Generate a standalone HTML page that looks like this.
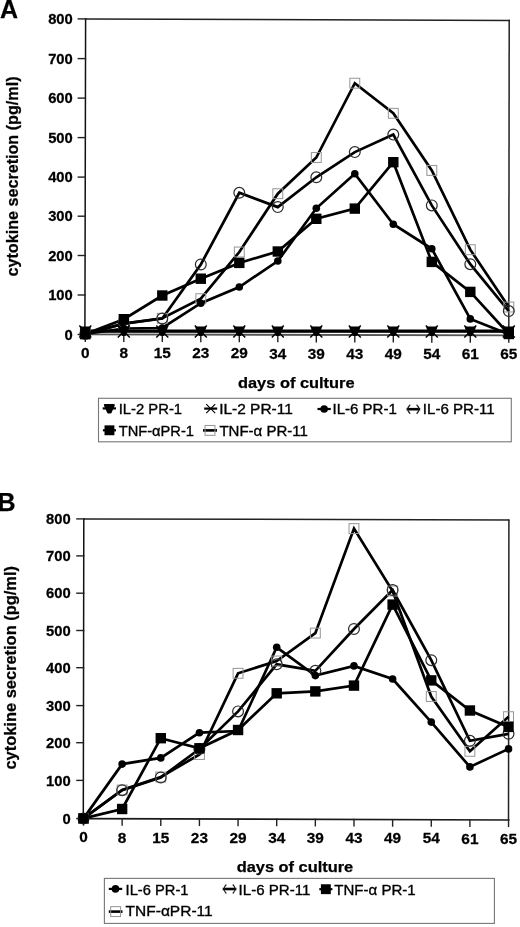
<!DOCTYPE html><html><head><meta charset="utf-8"><style>html,body{margin:0;padding:0;background:#fff;}svg{display:block;font-family:"Liberation Sans", sans-serif;filter:grayscale(1);} text{stroke:#000;stroke-width:0.25px;} text.lg{stroke-width:0.35px;}</style></head><body>
<svg width="520" height="927" viewBox="0 0 520 927">
<rect width="520" height="927" fill="#fff"/>
<text x="0.00" y="18.30" font-size="25" font-weight="bold" text-anchor="start">A</text>
<text x="-2.40" y="511.00" font-size="25" font-weight="bold" text-anchor="start">B</text>
<text transform="translate(17.8,176.5) rotate(-90)" font-size="16" font-weight="bold" text-anchor="middle" textLength="200" lengthAdjust="spacingAndGlyphs">cytokine secretion (pg/ml)</text>
<text transform="translate(15.6,667.8) rotate(-90)" font-size="16" font-weight="bold" text-anchor="middle" textLength="203.5" lengthAdjust="spacingAndGlyphs">cytokine secretion (pg/ml)</text>
<text x="238.00" y="387.50" font-size="14.7" font-weight="bold" text-anchor="start" textLength="116.50" lengthAdjust="spacingAndGlyphs">days of culture</text>
<text x="236.70" y="872.00" font-size="14.7" font-weight="bold" text-anchor="start" textLength="116.50" lengthAdjust="spacingAndGlyphs">days of culture</text>
<line x1="85.60" y1="19.00" x2="509.20" y2="20.40" stroke="#222" stroke-width="1.5" stroke-linecap="square"/>
<line x1="509.20" y1="20.40" x2="508.80" y2="335.80" stroke="#222" stroke-width="1.5" stroke-linecap="square"/>
<line x1="85.60" y1="18.90" x2="84.90" y2="335.00" stroke="#111" stroke-width="1.5" stroke-linecap="square"/>
<line x1="84.90" y1="334.40" x2="508.80" y2="335.30" stroke="#555" stroke-width="1.8" stroke-linecap="square"/>
<line x1="78.30" y1="18.90" x2="85.60" y2="18.90" stroke="#222" stroke-width="1.4" stroke-linecap="square"/>
<text transform="translate(72.80,24.10) scale(1.02,1)" font-size="14.5" font-weight="bold" text-anchor="end" class="tl">800</text>
<line x1="78.30" y1="58.60" x2="85.51" y2="58.60" stroke="#222" stroke-width="1.4" stroke-linecap="square"/>
<text transform="translate(72.80,63.80) scale(1.02,1)" font-size="14.5" font-weight="bold" text-anchor="end" class="tl">700</text>
<line x1="78.30" y1="98.10" x2="85.42" y2="98.10" stroke="#222" stroke-width="1.4" stroke-linecap="square"/>
<text transform="translate(72.80,103.30) scale(1.02,1)" font-size="14.5" font-weight="bold" text-anchor="end" class="tl">600</text>
<line x1="78.30" y1="137.60" x2="85.34" y2="137.60" stroke="#222" stroke-width="1.4" stroke-linecap="square"/>
<text transform="translate(72.80,142.80) scale(1.02,1)" font-size="14.5" font-weight="bold" text-anchor="end" class="tl">500</text>
<line x1="78.30" y1="177.10" x2="85.25" y2="177.10" stroke="#222" stroke-width="1.4" stroke-linecap="square"/>
<text transform="translate(72.80,182.30) scale(1.02,1)" font-size="14.5" font-weight="bold" text-anchor="end" class="tl">400</text>
<line x1="78.30" y1="216.20" x2="85.16" y2="216.20" stroke="#222" stroke-width="1.4" stroke-linecap="square"/>
<text transform="translate(72.80,221.40) scale(1.02,1)" font-size="14.5" font-weight="bold" text-anchor="end" class="tl">300</text>
<line x1="78.30" y1="255.50" x2="85.08" y2="255.50" stroke="#222" stroke-width="1.4" stroke-linecap="square"/>
<text transform="translate(72.80,260.70) scale(1.02,1)" font-size="14.5" font-weight="bold" text-anchor="end" class="tl">200</text>
<line x1="78.30" y1="295.00" x2="84.99" y2="295.00" stroke="#222" stroke-width="1.4" stroke-linecap="square"/>
<text transform="translate(72.80,300.20) scale(1.02,1)" font-size="14.5" font-weight="bold" text-anchor="end" class="tl">100</text>
<line x1="78.30" y1="334.50" x2="84.90" y2="334.50" stroke="#222" stroke-width="1.4" stroke-linecap="square"/>
<text transform="translate(72.80,339.70) scale(1.02,1)" font-size="14.5" font-weight="bold" text-anchor="end" class="tl">0</text>
<line x1="85.30" y1="334.40" x2="85.30" y2="341.20" stroke="#222" stroke-width="1.4" stroke-linecap="square"/>
<text transform="translate(85.30,357.94) scale(1.06,1)" font-size="14.5" font-weight="bold" text-anchor="middle" class="tl">0</text>
<line x1="123.80" y1="334.48" x2="123.80" y2="341.28" stroke="#222" stroke-width="1.4" stroke-linecap="square"/>
<text transform="translate(123.80,358.05) scale(1.06,1)" font-size="14.5" font-weight="bold" text-anchor="middle" class="tl">8</text>
<line x1="162.30" y1="334.56" x2="162.30" y2="341.36" stroke="#222" stroke-width="1.4" stroke-linecap="square"/>
<text transform="translate(162.30,358.17) scale(1.06,1)" font-size="14.5" font-weight="bold" text-anchor="middle" class="tl">15</text>
<line x1="200.80" y1="334.65" x2="200.80" y2="341.45" stroke="#222" stroke-width="1.4" stroke-linecap="square"/>
<text transform="translate(200.80,358.28) scale(1.06,1)" font-size="14.5" font-weight="bold" text-anchor="middle" class="tl">23</text>
<line x1="239.30" y1="334.73" x2="239.30" y2="341.53" stroke="#222" stroke-width="1.4" stroke-linecap="square"/>
<text transform="translate(239.30,358.40) scale(1.06,1)" font-size="14.5" font-weight="bold" text-anchor="middle" class="tl">29</text>
<line x1="277.80" y1="334.81" x2="277.80" y2="341.61" stroke="#222" stroke-width="1.4" stroke-linecap="square"/>
<text transform="translate(277.80,358.51) scale(1.06,1)" font-size="14.5" font-weight="bold" text-anchor="middle" class="tl">34</text>
<line x1="316.30" y1="334.89" x2="316.30" y2="341.69" stroke="#222" stroke-width="1.4" stroke-linecap="square"/>
<text transform="translate(316.30,358.63) scale(1.06,1)" font-size="14.5" font-weight="bold" text-anchor="middle" class="tl">39</text>
<line x1="354.80" y1="334.97" x2="354.80" y2="341.77" stroke="#222" stroke-width="1.4" stroke-linecap="square"/>
<text transform="translate(354.80,358.74) scale(1.06,1)" font-size="14.5" font-weight="bold" text-anchor="middle" class="tl">43</text>
<line x1="393.30" y1="335.05" x2="393.30" y2="341.85" stroke="#222" stroke-width="1.4" stroke-linecap="square"/>
<text transform="translate(393.30,358.86) scale(1.06,1)" font-size="14.5" font-weight="bold" text-anchor="middle" class="tl">49</text>
<line x1="431.80" y1="335.14" x2="431.80" y2="341.94" stroke="#222" stroke-width="1.4" stroke-linecap="square"/>
<text transform="translate(431.80,358.98) scale(1.06,1)" font-size="14.5" font-weight="bold" text-anchor="middle" class="tl">54</text>
<line x1="470.30" y1="335.22" x2="470.30" y2="342.02" stroke="#222" stroke-width="1.4" stroke-linecap="square"/>
<text transform="translate(470.30,359.09) scale(1.06,1)" font-size="14.5" font-weight="bold" text-anchor="middle" class="tl">61</text>
<line x1="508.80" y1="335.30" x2="508.80" y2="342.10" stroke="#222" stroke-width="1.4" stroke-linecap="square"/>
<text transform="translate(508.80,359.21) scale(1.06,1)" font-size="14.5" font-weight="bold" text-anchor="middle" class="tl">65</text>
<polyline points="85.30,330.90 123.80,330.90 162.30,330.90 200.80,330.90 239.30,330.90 277.80,330.90 316.30,330.90 354.80,330.90 393.30,330.90 431.80,330.90 470.30,330.90 508.80,330.90" fill="none" stroke="#000" stroke-width="2.7" stroke-linejoin="miter" stroke-miterlimit="3"/>
<polyline points="85.30,331.50 123.80,331.50 162.30,331.50 200.80,331.50 239.30,331.50 277.80,331.50 316.30,331.50 354.80,331.50 393.30,331.50 431.80,331.50 470.30,331.50 508.80,331.50" fill="none" stroke="#000" stroke-width="2.7" stroke-linejoin="miter" stroke-miterlimit="3"/>
<polyline points="85.30,334.00 123.80,328.50 162.30,328.00 200.80,303.20 239.30,287.00 277.80,261.00 316.30,208.30 354.80,173.80 393.30,224.20 431.80,248.80 470.30,318.90 508.80,334.20" fill="none" stroke="#000" stroke-width="2.7" stroke-linejoin="miter" stroke-miterlimit="3"/>
<polyline points="85.30,334.00 123.80,323.70 162.30,318.50 200.80,264.50 239.30,192.80 277.80,207.10 316.30,177.30 354.80,152.10 393.30,134.60 431.80,205.40 470.30,264.20 508.80,311.10" fill="none" stroke="#000" stroke-width="2.7" stroke-linejoin="miter" stroke-miterlimit="3"/>
<polyline points="85.30,334.00 123.80,319.20 162.30,295.50 200.80,278.70 239.30,262.90 277.80,251.50 316.30,218.80 354.80,208.60 393.30,162.20 431.80,261.90 470.30,291.90 508.80,334.00" fill="none" stroke="#000" stroke-width="2.7" stroke-linejoin="miter" stroke-miterlimit="3"/>
<polyline points="85.30,334.00 123.80,323.70 162.30,318.30 200.80,298.70 239.30,252.00 277.80,193.70 316.30,157.50 354.80,83.20 393.30,113.30 431.80,170.40 470.30,249.70 508.80,307.00" fill="none" stroke="#000" stroke-width="2.7" stroke-linejoin="miter" stroke-miterlimit="3"/>
<rect x="80.35" y="329.05" width="9.90" height="9.90" fill="none" stroke="#959595" stroke-width="1.0"/>
<rect x="118.85" y="318.75" width="9.90" height="9.90" fill="none" stroke="#959595" stroke-width="1.0"/>
<rect x="157.35" y="313.35" width="9.90" height="9.90" fill="none" stroke="#959595" stroke-width="1.0"/>
<rect x="195.85" y="293.75" width="9.90" height="9.90" fill="none" stroke="#959595" stroke-width="1.0"/>
<rect x="234.35" y="247.05" width="9.90" height="9.90" fill="none" stroke="#959595" stroke-width="1.0"/>
<rect x="272.85" y="188.75" width="9.90" height="9.90" fill="none" stroke="#959595" stroke-width="1.0"/>
<rect x="311.35" y="152.55" width="9.90" height="9.90" fill="none" stroke="#959595" stroke-width="1.0"/>
<rect x="349.85" y="78.25" width="9.90" height="9.90" fill="none" stroke="#959595" stroke-width="1.0"/>
<rect x="388.35" y="108.35" width="9.90" height="9.90" fill="none" stroke="#959595" stroke-width="1.0"/>
<rect x="426.85" y="165.45" width="9.90" height="9.90" fill="none" stroke="#959595" stroke-width="1.0"/>
<rect x="465.35" y="244.75" width="9.90" height="9.90" fill="none" stroke="#959595" stroke-width="1.0"/>
<rect x="503.85" y="302.05" width="9.90" height="9.90" fill="none" stroke="#959595" stroke-width="1.0"/>
<circle cx="85.30" cy="334.00" r="5.40" fill="none" stroke="#2a2a2a" stroke-width="1.2"/>
<circle cx="123.80" cy="323.70" r="5.40" fill="none" stroke="#2a2a2a" stroke-width="1.2"/>
<circle cx="162.30" cy="318.50" r="5.40" fill="none" stroke="#2a2a2a" stroke-width="1.2"/>
<circle cx="200.80" cy="264.50" r="5.40" fill="none" stroke="#2a2a2a" stroke-width="1.2"/>
<circle cx="239.30" cy="192.80" r="5.40" fill="none" stroke="#2a2a2a" stroke-width="1.2"/>
<circle cx="277.80" cy="207.10" r="5.40" fill="none" stroke="#2a2a2a" stroke-width="1.2"/>
<circle cx="316.30" cy="177.30" r="5.40" fill="none" stroke="#2a2a2a" stroke-width="1.2"/>
<circle cx="354.80" cy="152.10" r="5.40" fill="none" stroke="#2a2a2a" stroke-width="1.2"/>
<circle cx="393.30" cy="134.60" r="5.40" fill="none" stroke="#2a2a2a" stroke-width="1.2"/>
<circle cx="431.80" cy="205.40" r="5.40" fill="none" stroke="#2a2a2a" stroke-width="1.2"/>
<circle cx="470.30" cy="264.20" r="5.40" fill="none" stroke="#2a2a2a" stroke-width="1.2"/>
<circle cx="508.80" cy="311.10" r="5.40" fill="none" stroke="#2a2a2a" stroke-width="1.2"/>
<path d="M80.90,327.60 L89.70,327.60 L86.50,334.80 L84.10,334.80 Z" fill="#000" stroke="#000" stroke-width="2.20" stroke-linejoin="round"/>
<path d="M119.40,327.60 L128.20,327.60 L125.00,334.80 L122.60,334.80 Z" fill="#000" stroke="#000" stroke-width="2.20" stroke-linejoin="round"/>
<path d="M157.90,327.60 L166.70,327.60 L163.50,334.80 L161.10,334.80 Z" fill="#000" stroke="#000" stroke-width="2.20" stroke-linejoin="round"/>
<path d="M196.40,327.60 L205.20,327.60 L202.00,334.80 L199.60,334.80 Z" fill="#000" stroke="#000" stroke-width="2.20" stroke-linejoin="round"/>
<path d="M234.90,327.60 L243.70,327.60 L240.50,334.80 L238.10,334.80 Z" fill="#000" stroke="#000" stroke-width="2.20" stroke-linejoin="round"/>
<path d="M273.40,327.60 L282.20,327.60 L279.00,334.80 L276.60,334.80 Z" fill="#000" stroke="#000" stroke-width="2.20" stroke-linejoin="round"/>
<path d="M311.90,327.60 L320.70,327.60 L317.50,334.80 L315.10,334.80 Z" fill="#000" stroke="#000" stroke-width="2.20" stroke-linejoin="round"/>
<path d="M350.40,327.60 L359.20,327.60 L356.00,334.80 L353.60,334.80 Z" fill="#000" stroke="#000" stroke-width="2.20" stroke-linejoin="round"/>
<path d="M388.90,327.60 L397.70,327.60 L394.50,334.80 L392.10,334.80 Z" fill="#000" stroke="#000" stroke-width="2.20" stroke-linejoin="round"/>
<path d="M427.40,327.60 L436.20,327.60 L433.00,334.80 L430.60,334.80 Z" fill="#000" stroke="#000" stroke-width="2.20" stroke-linejoin="round"/>
<path d="M465.90,327.60 L474.70,327.60 L471.50,334.80 L469.10,334.80 Z" fill="#000" stroke="#000" stroke-width="2.20" stroke-linejoin="round"/>
<path d="M504.40,327.60 L513.20,327.60 L510.00,334.80 L507.60,334.80 Z" fill="#000" stroke="#000" stroke-width="2.20" stroke-linejoin="round"/>
<path d="M79.30,325.50 L91.30,337.50 M91.30,325.50 L79.30,337.50" stroke="#000" stroke-width="1.50" fill="none"/>
<path d="M117.80,325.50 L129.80,337.50 M129.80,325.50 L117.80,337.50" stroke="#000" stroke-width="1.50" fill="none"/>
<path d="M156.30,325.50 L168.30,337.50 M168.30,325.50 L156.30,337.50" stroke="#000" stroke-width="1.50" fill="none"/>
<path d="M194.80,325.50 L206.80,337.50 M206.80,325.50 L194.80,337.50" stroke="#000" stroke-width="1.50" fill="none"/>
<path d="M233.30,325.50 L245.30,337.50 M245.30,325.50 L233.30,337.50" stroke="#000" stroke-width="1.50" fill="none"/>
<path d="M271.80,325.50 L283.80,337.50 M283.80,325.50 L271.80,337.50" stroke="#000" stroke-width="1.50" fill="none"/>
<path d="M310.30,325.50 L322.30,337.50 M322.30,325.50 L310.30,337.50" stroke="#000" stroke-width="1.50" fill="none"/>
<path d="M348.80,325.50 L360.80,337.50 M360.80,325.50 L348.80,337.50" stroke="#000" stroke-width="1.50" fill="none"/>
<path d="M387.30,325.50 L399.30,337.50 M399.30,325.50 L387.30,337.50" stroke="#000" stroke-width="1.50" fill="none"/>
<path d="M425.80,325.50 L437.80,337.50 M437.80,325.50 L425.80,337.50" stroke="#000" stroke-width="1.50" fill="none"/>
<path d="M464.30,325.50 L476.30,337.50 M476.30,325.50 L464.30,337.50" stroke="#000" stroke-width="1.50" fill="none"/>
<path d="M502.80,325.50 L514.80,337.50 M514.80,325.50 L502.80,337.50" stroke="#000" stroke-width="1.50" fill="none"/>
<circle cx="85.30" cy="334.00" r="3.80" fill="#000"/>
<circle cx="123.80" cy="328.50" r="3.80" fill="#000"/>
<circle cx="162.30" cy="328.00" r="3.80" fill="#000"/>
<circle cx="200.80" cy="303.20" r="3.80" fill="#000"/>
<circle cx="239.30" cy="287.00" r="3.80" fill="#000"/>
<circle cx="277.80" cy="261.00" r="3.80" fill="#000"/>
<circle cx="316.30" cy="208.30" r="3.80" fill="#000"/>
<circle cx="354.80" cy="173.80" r="3.80" fill="#000"/>
<circle cx="393.30" cy="224.20" r="3.80" fill="#000"/>
<circle cx="431.80" cy="248.80" r="3.80" fill="#000"/>
<circle cx="470.30" cy="318.90" r="3.80" fill="#000"/>
<circle cx="508.80" cy="334.20" r="3.80" fill="#000"/>
<rect x="80.10" y="328.80" width="10.40" height="10.40" fill="#000"/>
<rect x="118.60" y="314.00" width="10.40" height="10.40" fill="#000"/>
<rect x="157.10" y="290.30" width="10.40" height="10.40" fill="#000"/>
<rect x="195.60" y="273.50" width="10.40" height="10.40" fill="#000"/>
<rect x="234.10" y="257.70" width="10.40" height="10.40" fill="#000"/>
<rect x="272.60" y="246.30" width="10.40" height="10.40" fill="#000"/>
<rect x="311.10" y="213.60" width="10.40" height="10.40" fill="#000"/>
<rect x="349.60" y="203.40" width="10.40" height="10.40" fill="#000"/>
<rect x="388.10" y="157.00" width="10.40" height="10.40" fill="#000"/>
<rect x="426.60" y="256.70" width="10.40" height="10.40" fill="#000"/>
<rect x="465.10" y="286.70" width="10.40" height="10.40" fill="#000"/>
<rect x="503.60" y="328.80" width="10.40" height="10.40" fill="#000"/>
<line x1="83.80" y1="519.00" x2="508.90" y2="519.90" stroke="#222" stroke-width="1.5" stroke-linecap="square"/>
<line x1="508.90" y1="519.90" x2="508.50" y2="820.00" stroke="#222" stroke-width="1.5" stroke-linecap="square"/>
<line x1="83.80" y1="519.00" x2="83.30" y2="819.00" stroke="#111" stroke-width="1.5" stroke-linecap="square"/>
<line x1="83.30" y1="818.60" x2="508.50" y2="820.00" stroke="#1a1a1a" stroke-width="1.7" stroke-linecap="square"/>
<line x1="76.90" y1="518.90" x2="83.80" y2="518.90" stroke="#222" stroke-width="1.4" stroke-linecap="square"/>
<text transform="translate(70.60,524.10) scale(1.02,1)" font-size="14.5" font-weight="bold" text-anchor="end" class="tl">800</text>
<line x1="76.90" y1="555.90" x2="83.74" y2="555.90" stroke="#222" stroke-width="1.4" stroke-linecap="square"/>
<text transform="translate(70.60,561.10) scale(1.02,1)" font-size="14.5" font-weight="bold" text-anchor="end" class="tl">700</text>
<line x1="76.90" y1="593.20" x2="83.68" y2="593.20" stroke="#222" stroke-width="1.4" stroke-linecap="square"/>
<text transform="translate(70.60,598.40) scale(1.02,1)" font-size="14.5" font-weight="bold" text-anchor="end" class="tl">600</text>
<line x1="76.90" y1="630.50" x2="83.61" y2="630.50" stroke="#222" stroke-width="1.4" stroke-linecap="square"/>
<text transform="translate(70.60,635.70) scale(1.02,1)" font-size="14.5" font-weight="bold" text-anchor="end" class="tl">500</text>
<line x1="76.90" y1="667.70" x2="83.55" y2="667.70" stroke="#222" stroke-width="1.4" stroke-linecap="square"/>
<text transform="translate(70.60,672.90) scale(1.02,1)" font-size="14.5" font-weight="bold" text-anchor="end" class="tl">400</text>
<line x1="76.90" y1="705.60" x2="83.49" y2="705.60" stroke="#222" stroke-width="1.4" stroke-linecap="square"/>
<text transform="translate(70.60,710.80) scale(1.02,1)" font-size="14.5" font-weight="bold" text-anchor="end" class="tl">300</text>
<line x1="76.90" y1="742.70" x2="83.43" y2="742.70" stroke="#222" stroke-width="1.4" stroke-linecap="square"/>
<text transform="translate(70.60,747.90) scale(1.02,1)" font-size="14.5" font-weight="bold" text-anchor="end" class="tl">200</text>
<line x1="76.90" y1="780.40" x2="83.36" y2="780.40" stroke="#222" stroke-width="1.4" stroke-linecap="square"/>
<text transform="translate(70.60,785.60) scale(1.02,1)" font-size="14.5" font-weight="bold" text-anchor="end" class="tl">100</text>
<line x1="76.90" y1="818.60" x2="83.30" y2="818.60" stroke="#222" stroke-width="1.4" stroke-linecap="square"/>
<text transform="translate(70.60,823.80) scale(1.02,1)" font-size="14.5" font-weight="bold" text-anchor="end" class="tl">0</text>
<line x1="83.50" y1="818.60" x2="83.50" y2="825.00" stroke="#222" stroke-width="1.4" stroke-linecap="square"/>
<text transform="translate(83.50,842.43) scale(1.06,1)" font-size="14.5" font-weight="bold" text-anchor="middle" class="tl">0</text>
<line x1="122.14" y1="818.73" x2="122.14" y2="825.13" stroke="#222" stroke-width="1.4" stroke-linecap="square"/>
<text transform="translate(122.14,842.55) scale(1.06,1)" font-size="14.5" font-weight="bold" text-anchor="middle" class="tl">8</text>
<line x1="160.78" y1="818.86" x2="160.78" y2="825.26" stroke="#222" stroke-width="1.4" stroke-linecap="square"/>
<text transform="translate(160.78,842.66) scale(1.06,1)" font-size="14.5" font-weight="bold" text-anchor="middle" class="tl">15</text>
<line x1="199.42" y1="818.98" x2="199.42" y2="825.38" stroke="#222" stroke-width="1.4" stroke-linecap="square"/>
<text transform="translate(199.42,842.78) scale(1.06,1)" font-size="14.5" font-weight="bold" text-anchor="middle" class="tl">23</text>
<line x1="238.06" y1="819.11" x2="238.06" y2="825.51" stroke="#222" stroke-width="1.4" stroke-linecap="square"/>
<text transform="translate(238.06,842.89) scale(1.06,1)" font-size="14.5" font-weight="bold" text-anchor="middle" class="tl">29</text>
<line x1="276.70" y1="819.24" x2="276.70" y2="825.64" stroke="#222" stroke-width="1.4" stroke-linecap="square"/>
<text transform="translate(276.70,843.01) scale(1.06,1)" font-size="14.5" font-weight="bold" text-anchor="middle" class="tl">34</text>
<line x1="315.34" y1="819.36" x2="315.34" y2="825.76" stroke="#222" stroke-width="1.4" stroke-linecap="square"/>
<text transform="translate(315.34,843.13) scale(1.06,1)" font-size="14.5" font-weight="bold" text-anchor="middle" class="tl">39</text>
<line x1="353.98" y1="819.49" x2="353.98" y2="825.89" stroke="#222" stroke-width="1.4" stroke-linecap="square"/>
<text transform="translate(353.98,843.24) scale(1.06,1)" font-size="14.5" font-weight="bold" text-anchor="middle" class="tl">43</text>
<line x1="392.62" y1="819.62" x2="392.62" y2="826.02" stroke="#222" stroke-width="1.4" stroke-linecap="square"/>
<text transform="translate(392.62,843.36) scale(1.06,1)" font-size="14.5" font-weight="bold" text-anchor="middle" class="tl">49</text>
<line x1="431.26" y1="819.75" x2="431.26" y2="826.15" stroke="#222" stroke-width="1.4" stroke-linecap="square"/>
<text transform="translate(431.26,843.47) scale(1.06,1)" font-size="14.5" font-weight="bold" text-anchor="middle" class="tl">54</text>
<line x1="469.90" y1="819.87" x2="469.90" y2="826.27" stroke="#222" stroke-width="1.4" stroke-linecap="square"/>
<text transform="translate(469.90,843.59) scale(1.06,1)" font-size="14.5" font-weight="bold" text-anchor="middle" class="tl">61</text>
<line x1="508.54" y1="820.00" x2="508.54" y2="826.40" stroke="#222" stroke-width="1.4" stroke-linecap="square"/>
<text transform="translate(508.54,843.71) scale(1.06,1)" font-size="14.5" font-weight="bold" text-anchor="middle" class="tl">65</text>
<polyline points="83.50,818.40 122.14,764.10 160.78,757.90 199.42,732.70 238.06,731.00 276.70,647.30 315.34,675.60 353.98,665.90 392.62,679.00 431.26,722.10 469.90,766.90 508.54,748.90" fill="none" stroke="#000" stroke-width="2.7" stroke-linejoin="miter" stroke-miterlimit="3"/>
<polyline points="83.50,818.40 122.14,790.20 160.78,777.50 199.42,749.00 238.06,711.40 276.70,664.30 315.34,670.80 353.98,629.00 392.62,590.00 431.26,660.20 469.90,740.80 508.54,733.80" fill="none" stroke="#000" stroke-width="2.7" stroke-linejoin="miter" stroke-miterlimit="3"/>
<polyline points="83.50,818.40 122.14,809.00 160.78,738.20 199.42,748.30 238.06,730.00 276.70,693.30 315.34,691.40 353.98,685.60 392.62,604.60 431.26,680.40 469.90,710.50 508.54,726.90" fill="none" stroke="#000" stroke-width="2.7" stroke-linejoin="miter" stroke-miterlimit="3"/>
<polyline points="83.50,818.40 122.14,790.00 160.78,777.00 199.42,754.50 238.06,673.30 276.70,661.00 315.34,633.10 353.98,528.60 392.62,591.00 431.26,696.50 469.90,751.30 508.54,716.70" fill="none" stroke="#000" stroke-width="2.7" stroke-linejoin="miter" stroke-miterlimit="3"/>
<rect x="78.55" y="813.45" width="9.90" height="9.90" fill="none" stroke="#959595" stroke-width="1.0"/>
<rect x="117.19" y="785.05" width="9.90" height="9.90" fill="none" stroke="#959595" stroke-width="1.0"/>
<rect x="155.83" y="772.05" width="9.90" height="9.90" fill="none" stroke="#959595" stroke-width="1.0"/>
<rect x="194.47" y="749.55" width="9.90" height="9.90" fill="none" stroke="#959595" stroke-width="1.0"/>
<rect x="233.11" y="668.35" width="9.90" height="9.90" fill="none" stroke="#959595" stroke-width="1.0"/>
<rect x="271.75" y="656.05" width="9.90" height="9.90" fill="none" stroke="#959595" stroke-width="1.0"/>
<rect x="310.39" y="628.15" width="9.90" height="9.90" fill="none" stroke="#959595" stroke-width="1.0"/>
<rect x="349.03" y="523.65" width="9.90" height="9.90" fill="none" stroke="#959595" stroke-width="1.0"/>
<rect x="387.67" y="586.05" width="9.90" height="9.90" fill="none" stroke="#959595" stroke-width="1.0"/>
<rect x="426.31" y="691.55" width="9.90" height="9.90" fill="none" stroke="#959595" stroke-width="1.0"/>
<rect x="464.95" y="746.35" width="9.90" height="9.90" fill="none" stroke="#959595" stroke-width="1.0"/>
<rect x="503.59" y="711.75" width="9.90" height="9.90" fill="none" stroke="#959595" stroke-width="1.0"/>
<circle cx="83.50" cy="818.40" r="5.40" fill="none" stroke="#2a2a2a" stroke-width="1.2"/>
<circle cx="122.14" cy="790.20" r="5.40" fill="none" stroke="#2a2a2a" stroke-width="1.2"/>
<circle cx="160.78" cy="777.50" r="5.40" fill="none" stroke="#2a2a2a" stroke-width="1.2"/>
<circle cx="199.42" cy="749.00" r="5.40" fill="none" stroke="#2a2a2a" stroke-width="1.2"/>
<circle cx="238.06" cy="711.40" r="5.40" fill="none" stroke="#2a2a2a" stroke-width="1.2"/>
<circle cx="276.70" cy="664.30" r="5.40" fill="none" stroke="#2a2a2a" stroke-width="1.2"/>
<circle cx="315.34" cy="670.80" r="5.40" fill="none" stroke="#2a2a2a" stroke-width="1.2"/>
<circle cx="353.98" cy="629.00" r="5.40" fill="none" stroke="#2a2a2a" stroke-width="1.2"/>
<circle cx="392.62" cy="590.00" r="5.40" fill="none" stroke="#2a2a2a" stroke-width="1.2"/>
<circle cx="431.26" cy="660.20" r="5.40" fill="none" stroke="#2a2a2a" stroke-width="1.2"/>
<circle cx="469.90" cy="740.80" r="5.40" fill="none" stroke="#2a2a2a" stroke-width="1.2"/>
<circle cx="508.54" cy="733.80" r="5.40" fill="none" stroke="#2a2a2a" stroke-width="1.2"/>
<circle cx="83.50" cy="818.40" r="3.80" fill="#000"/>
<circle cx="122.14" cy="764.10" r="3.80" fill="#000"/>
<circle cx="160.78" cy="757.90" r="3.80" fill="#000"/>
<circle cx="199.42" cy="732.70" r="3.80" fill="#000"/>
<circle cx="238.06" cy="731.00" r="3.80" fill="#000"/>
<circle cx="276.70" cy="647.30" r="3.80" fill="#000"/>
<circle cx="315.34" cy="675.60" r="3.80" fill="#000"/>
<circle cx="353.98" cy="665.90" r="3.80" fill="#000"/>
<circle cx="392.62" cy="679.00" r="3.80" fill="#000"/>
<circle cx="431.26" cy="722.10" r="3.80" fill="#000"/>
<circle cx="469.90" cy="766.90" r="3.80" fill="#000"/>
<circle cx="508.54" cy="748.90" r="3.80" fill="#000"/>
<rect x="78.30" y="813.20" width="10.40" height="10.40" fill="#000"/>
<rect x="116.94" y="803.80" width="10.40" height="10.40" fill="#000"/>
<rect x="155.58" y="733.00" width="10.40" height="10.40" fill="#000"/>
<rect x="194.22" y="743.10" width="10.40" height="10.40" fill="#000"/>
<rect x="232.86" y="724.80" width="10.40" height="10.40" fill="#000"/>
<rect x="271.50" y="688.10" width="10.40" height="10.40" fill="#000"/>
<rect x="310.14" y="686.20" width="10.40" height="10.40" fill="#000"/>
<rect x="348.78" y="680.40" width="10.40" height="10.40" fill="#000"/>
<rect x="387.42" y="599.40" width="10.40" height="10.40" fill="#000"/>
<rect x="426.06" y="675.20" width="10.40" height="10.40" fill="#000"/>
<rect x="464.70" y="705.30" width="10.40" height="10.40" fill="#000"/>
<rect x="503.34" y="721.70" width="10.40" height="10.40" fill="#000"/>
<rect x="98.5" y="398.3" width="412.8" height="43.5" fill="none" stroke="#777" stroke-width="1.1"/>
<line x1="102.70" y1="408.40" x2="116.00" y2="408.40" stroke="#000" stroke-width="2.2"/><path d="M104.95,405.10 L113.75,405.10 L110.55,412.30 L108.15,412.30 Z" fill="#000" stroke="#000" stroke-width="2.20" stroke-linejoin="round"/>
<text x="118.75" y="413.80" font-size="14.6" font-weight="normal" text-anchor="start" textLength="63.30" lengthAdjust="spacingAndGlyphs" class="lg">IL-2 PR-1</text>
<line x1="204.20" y1="408.60" x2="217.20" y2="408.60" stroke="#000" stroke-width="2.2"/><path d="M206.20,404.10 L215.20,413.10 M215.20,404.10 L206.20,413.10" stroke="#000" stroke-width="1.12" fill="none"/>
<text x="219.20" y="413.80" font-size="14.6" font-weight="normal" text-anchor="start" textLength="73.60" lengthAdjust="spacingAndGlyphs" class="lg">IL-2 PR-11</text>
<line x1="317.50" y1="409.00" x2="330.80" y2="409.00" stroke="#000" stroke-width="2.2"/><circle cx="324.15" cy="409.00" r="3.80" fill="#000"/>
<text x="332.50" y="413.80" font-size="14.6" font-weight="normal" text-anchor="start" textLength="64.30" lengthAdjust="spacingAndGlyphs" class="lg">IL-6 PR-1</text>
<line x1="406.60" y1="409.20" x2="420.20" y2="409.20" stroke="#000" stroke-width="2.6"/><path d="M410.20,404.70 Q405.40,409.20 410.20,413.70 M416.60,404.70 Q421.40,409.20 416.60,413.70" fill="none" stroke="#222" stroke-width="1.2"/>
<text x="422.80" y="413.80" font-size="14.6" font-weight="normal" text-anchor="start" textLength="71.90" lengthAdjust="spacingAndGlyphs" class="lg">IL-6 PR-11</text>
<line x1="102.90" y1="430.30" x2="116.00" y2="430.30" stroke="#000" stroke-width="2.2"/><rect x="104.51" y="425.36" width="9.88" height="9.88" fill="#000"/>
<text x="118.75" y="435.50" font-size="14.6" font-weight="normal" text-anchor="start" textLength="75.20" lengthAdjust="spacingAndGlyphs" class="lg">TNF-αPR-1</text>
<line x1="203.00" y1="430.40" x2="217.00" y2="430.40" stroke="#000" stroke-width="2.6"/><rect x="205.05" y="425.45" width="9.90" height="9.90" fill="none" stroke="#959595" stroke-width="1.0"/>
<text x="219.40" y="435.50" font-size="14.6" font-weight="normal" text-anchor="start" textLength="88.50" lengthAdjust="spacingAndGlyphs" class="lg">TNF-α PR-11</text>
<rect x="104.4" y="878.4" width="390" height="45" fill="none" stroke="#777" stroke-width="1.1"/>
<line x1="108.80" y1="888.90" x2="122.20" y2="888.90" stroke="#000" stroke-width="2.2"/><circle cx="115.50" cy="888.90" r="3.80" fill="#000"/>
<text x="125.60" y="894.70" font-size="14.6" font-weight="normal" text-anchor="start" textLength="62.90" lengthAdjust="spacingAndGlyphs" class="lg">IL-6 PR-1</text>
<line x1="222.70" y1="889.00" x2="236.40" y2="889.00" stroke="#000" stroke-width="2.6"/><path d="M226.35,884.50 Q221.55,889.00 226.35,893.50 M232.75,884.50 Q237.55,889.00 232.75,893.50" fill="none" stroke="#222" stroke-width="1.2"/>
<text x="238.60" y="894.70" font-size="14.6" font-weight="normal" text-anchor="start" textLength="71.80" lengthAdjust="spacingAndGlyphs" class="lg">IL-6 PR-11</text>
<line x1="319.30" y1="889.20" x2="332.40" y2="889.20" stroke="#000" stroke-width="2.2"/><rect x="320.91" y="884.26" width="9.88" height="9.88" fill="#000"/>
<text x="334.30" y="894.70" font-size="14.6" font-weight="normal" text-anchor="start" textLength="81.40" lengthAdjust="spacingAndGlyphs" class="lg">TNF-α PR-1</text>
<line x1="108.80" y1="911.60" x2="122.50" y2="911.60" stroke="#000" stroke-width="2.6"/><rect x="110.70" y="906.65" width="9.90" height="9.90" fill="none" stroke="#959595" stroke-width="1.0"/>
<text x="125.60" y="916.40" font-size="14.6" font-weight="normal" text-anchor="start" textLength="87.10" lengthAdjust="spacingAndGlyphs" class="lg">TNF-αPR-11</text>
</svg></body></html>
